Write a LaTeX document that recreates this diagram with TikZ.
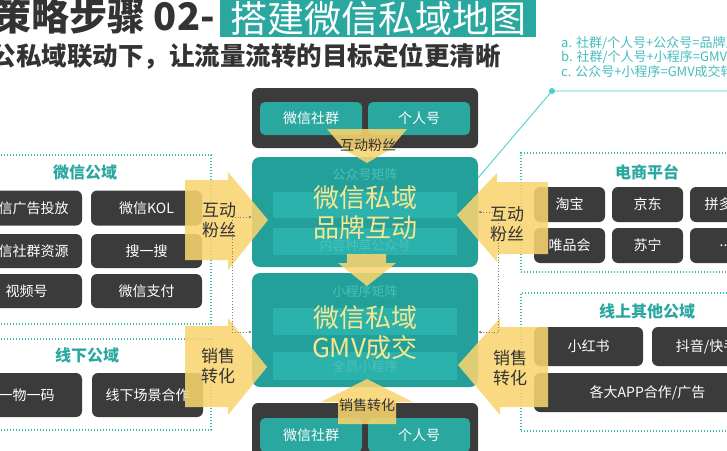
\documentclass[tikz,border=0pt]{standalone}
\usepackage{fontspec}
\setmainfont{Noto Sans CJK SC}
\usepackage{tikz}
\usetikzlibrary{arrows.meta}
\definecolor{titleteal}{HTML}{2AA8A0}
\definecolor{coreteal}{HTML}{24A09A}
\definecolor{innerteal}{HTML}{2CB2AC}
\definecolor{faintteal}{HTML}{4CC0BA}
\definecolor{darkfill}{HTML}{3B3B3B}
\definecolor{frameteal}{HTML}{3DBAB2}
\definecolor{flowyellow}{HTML}{F8D46F}
\definecolor{paleyellow}{HTML}{F7E690}
\definecolor{headtext}{HTML}{333333}
\definecolor{notetext}{HTML}{45BCBC}
\definecolor{linecyan}{HTML}{4CCFD0}

\begin{document}
\begin{tikzpicture}
	[x=1pt,y=-1pt,every node/.style={inner sep=0pt},
	darkbox/.style={rectangle,rounded corners=6pt,fill=darkfill,text=white,font=\fontsize{14}{14}\selectfont},
	tealbox/.style={rectangle,rounded corners=5pt,fill=titleteal,text=white,font=\fontsize{14}{14}\selectfont,minimum width=102pt,minimum height=33pt},
	frame/.style={rectangle,draw=frameteal,line width=1.1pt,dash pattern=on 1.1pt off 1.9pt},
	panelhead/.style={text=titleteal,font=\bfseries\fontsize{16}{16}\selectfont},
	flowtext/.style={text=headtext,align=center,font=\fontsize{17}{20}\selectfont},
	coretext/.style={text=paleyellow,align=center,font=\fontsize{26}{30}\selectfont},
	ghost/.style={text=faintteal,font=\fontsize{13}{13}\selectfont},
	flow/.style={fill=flowyellow,fill opacity=.88},
	conn/.style={draw=gray,line width=.8pt,dotted}]
	\useasboundingbox (0,0) rectangle (727,450);
	\clip (0,0) rectangle (727,450);

	\node[anchor=east,text=headtext,font=\bfseries\fontsize{38}{38}\selectfont] (step) at (215,16) {策略步骤 02-};
	\node[fill=titleteal,text=white,font=\fontsize{37}{37}\selectfont,inner xsep=10pt,minimum height=38pt] (maptitle) at (378,18) {搭建微信私域地图};
	\node[anchor=east,text=headtext,font=\bfseries\fontsize{25.5}{25.5}\selectfont] (subtitle) at (501,56) {公私域联动下，让流量流转的目标定位更清晰};
	\node[anchor=west,text=notetext,align=left,font=\fontsize{13}{14.5}\selectfont] (notes) at (561,57) {a. 社群/个人号+公众号=品牌互\\b. 社群/个人号+小程序=GMV成\\c. 公众号+小程序=GMV成交转};

	\node[frame,minimum width=216pt,minimum height=169pt] (wxpub) at (103,239.5) {};
	\node[frame,minimum width=216pt,minimum height=91pt] (offpub) at (103,384.5) {};
	\node[frame,minimum width=214pt,minimum height=119pt] (shop) at (628,212.5) {};
	\node[frame,minimum width=214pt,minimum height=138pt] (otherpub) at (628,362) {};

	\node[panelhead] (wxhead) at (85,172) {微信公域};
	\node[panelhead] (offhead) at (87,355) {线下公域};
	\node[panelhead] (shophead) at (647,172) {电商平台};
	\node[panelhead] (otherhead) at (647,311) {线上其他公域};

	\node[darkbox,minimum width=111pt,minimum height=35pt] (ads) at (26.5,208) {微信广告投放};
	\node[darkbox,minimum width=111pt,minimum height=35pt] (kol) at (146.5,208) {微信KOL};
	\node[darkbox,minimum width=111pt,minimum height=34pt] (groups) at (26.5,251) {微信社群资源};
	\node[darkbox,minimum width=111pt,minimum height=34pt] (search) at (146.5,251) {搜一搜};
	\node[darkbox,minimum width=111pt,minimum height=34pt] (video) at (26.5,291) {视频号};
	\node[darkbox,minimum width=111pt,minimum height=34pt] (pay) at (146.5,291) {微信支付};
	\node[darkbox,minimum width=111pt,minimum height=44pt] (qrcode) at (26.5,395) {一物一码};
	\node[darkbox,minimum width=111pt,minimum height=44pt] (scene) at (147.5,395) {线下场景合作};

	\node[darkbox,minimum width=71pt,minimum height=35pt] (taobao) at (569.5,204.5) {淘宝};
	\node[darkbox,minimum width=71pt,minimum height=35pt] (jd) at (647.5,204.5) {京东};
	\node[darkbox,minimum width=71pt,minimum height=35pt] (pdd) at (725.5,204.5) {拼多多};
	\node[darkbox,minimum width=71pt,minimum height=35pt] (vip) at (569.5,245.5) {唯品会};
	\node[darkbox,minimum width=71pt,minimum height=35pt] (suning) at (647.5,245.5) {苏宁};
	\node[darkbox,minimum width=71pt,minimum height=35pt] (more) at (725.5,245.5) {...};
	\node[darkbox,minimum width=109pt,minimum height=39pt] (xhs) at (588.5,346.5) {小红书};
	\node[darkbox,minimum width=109pt,minimum height=39pt] (douyin) at (706.5,346.5) {抖音/快手};
	\node[darkbox,minimum width=227pt,minimum height=39pt] (apps) at (647.5,392.5) {各大APP合作/广告};

	\node[darkbox,minimum width=226pt,minimum height=60pt] (topgroup) at (365,118) {};
	\node[tealbox] (topqun) at (311,118.5) {微信社群};
	\node[tealbox] (topren) at (419,118.5) {个人号};
	\node[darkbox,minimum width=226pt,minimum height=67pt] (botgroup) at (365,436.5) {};
	\node[tealbox,minimum height=34pt] (botqun) at (311,435) {微信社群};
	\node[tealbox,minimum height=34pt] (botren) at (419,435) {个人号};

	\node[rectangle,rounded corners=8pt,fill=coreteal,minimum width=226pt,minimum height=110pt] (brand) at (365,212) {};
	\node[rectangle,rounded corners=8pt,fill=coreteal,minimum width=226pt,minimum height=114pt] (gmv) at (365,330) {};
	\node[fill=innerteal,minimum width=184pt,minimum height=26pt] (brandbar1) at (365,205) {};
	\node[fill=innerteal,minimum width=184pt,minimum height=27pt] (brandbar2) at (365,241.5) {};
	\node[fill=innerteal,minimum width=184pt,minimum height=27pt] (gmvbar1) at (365,321.5) {};
	\node[fill=innerteal,minimum width=184pt,minimum height=28pt] (gmvbar2) at (365,366) {};
	\node[ghost] (oamatrix) at (365,175) {公众号矩阵};
	\node[ghost] (oacontent) at (365,246) {内容种草公众号};
	\node[ghost] (mpmatrix) at (365,292) {小程序矩阵};
	\node[ghost] (mpstaff) at (365,367) {全员小程序};
	\node[coretext] (brandtext) at (365,213) {微信私域\\品牌互动};
	\node[coretext] (gmvtext) at (365,332.5) {微信私域\\GMV成交};

	\draw[linecyan,line width=.9pt] (478,178) -- (552,91) -- (727,91);
	\fill[linecyan] (552,91) circle (3pt);

	\fill[flow] (185,180) -- (228,180) -- (228,172) -- (268,220) -- (228,270) -- (228,260) -- (185,260) -- cycle;
	\fill[flow] (185,326) -- (228,326) -- (228,318) -- (267,367) -- (228,415) -- (228,407) -- (185,407) -- cycle;
	\fill[flow] (548,182) -- (497,182) -- (497,173) -- (457,215) -- (497,262) -- (497,254) -- (548,254) -- cycle;
	\fill[flow] (548,327) -- (500,327) -- (500,318) -- (458,365) -- (500,415) -- (500,407) -- (548,407) -- cycle;
	\fill[flow] (327,129) -- (407,129) -- (389,150) -- (367,163) -- (345,150) -- cycle;
	\fill[flow] (347,254) -- (386,254) -- (386,263) -- (396,263) -- (367,286) -- (338,263) -- (347,263) -- cycle;
	\fill[flow] (367,379) -- (413,402) -- (396,402) -- (396,424) -- (338,424) -- (338,402) -- (321,402) -- cycle;

	\coordinate (lefttop) at (232,217);
	\coordinate (leftbot) at (232,332);
	\coordinate (righttop) at (498,212);
	\coordinate (rightbot) at (498,332);
	\draw[conn] (lefttop) -- (leftbot);
	\draw[conn] (righttop) -- (rightbot);
	\draw[conn,-{Latex[length=3pt,width=3pt]}] (lefttop) -- (lefttop -| brand.west);
	\draw[conn,-{Latex[length=3pt,width=3pt]}] (leftbot) -- (leftbot -| gmv.west);
	\draw[conn,-{Latex[length=3pt,width=3pt]}] (righttop) -- (righttop -| brand.east);
	\draw[conn,-{Latex[length=3pt,width=3pt]}] (rightbot) -- (rightbot -| gmv.east);

	\node[flowtext] (fanleft) at (219,220) {互动\\粉丝};
	\node[flowtext] (saleleft) at (218,366) {销售\\转化};
	\node[flowtext] (fanright) at (507,224) {互动\\粉丝};
	\node[flowtext] (saleright) at (510,368) {销售\\转化};
	\node[text=headtext,font=\fontsize{14}{14}\selectfont] (fantop) at (368,145) {互动粉丝};
	\node[text=headtext,font=\fontsize{14}{14}\selectfont] (salebot) at (367,405) {销售转化};
\end{tikzpicture}
\end{document}
